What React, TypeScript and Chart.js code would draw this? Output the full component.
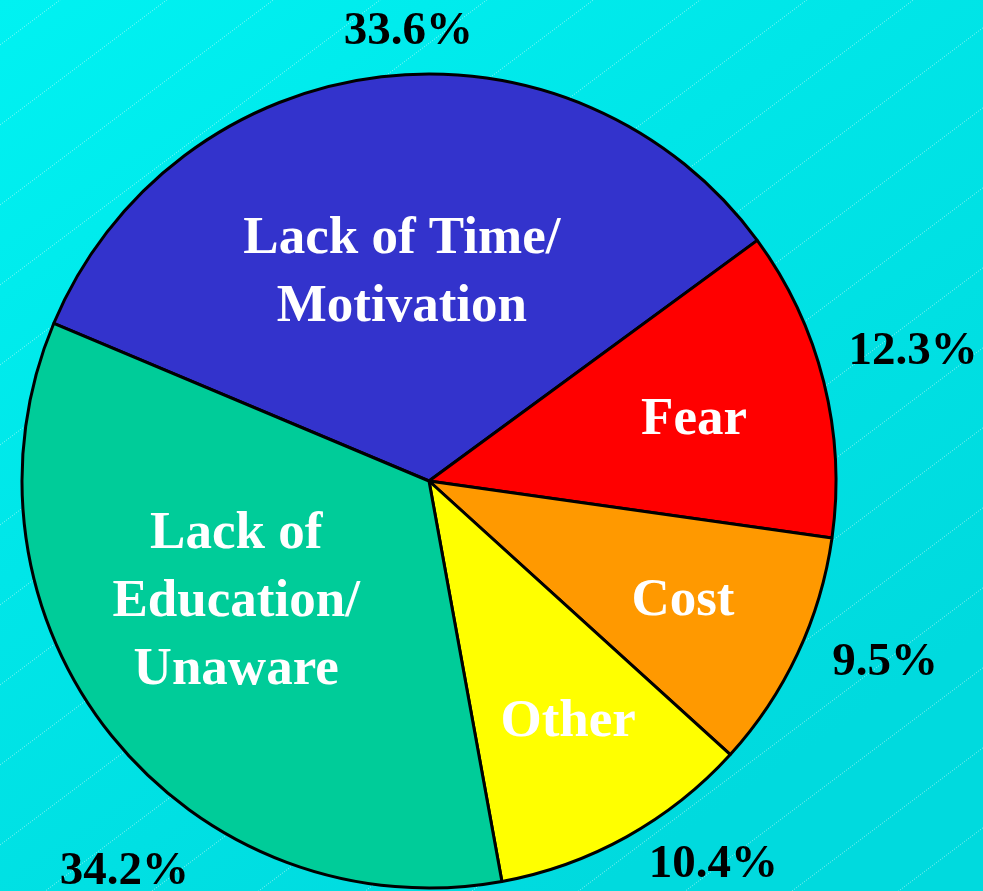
import React, { useEffect, useRef } from "react";
import { Chart, registerables } from "chart.js";

Chart.register(...registerables);

// ---- data ----
const categories = ["Lack of Time/ Motivation", "Fear", "Cost", "Other", "Lack of Education/ Unaware"];
const categoryLines = [["Lack of Time/", "Motivation"], ["Fear"], ["Cost"], ["Other"], ["Lack of", "Education/", "Unaware"]];
const values = [33.6, 12.3, 9.5, 10.4, 34.2];
const percentLabels = ["33.6%", "12.3%", "9.5%", "10.4%", "34.2%"];
const sliceColors = ["#3333CC", "#FF0000", "#FF9900", "#FFFF00", "#00CC99"];

// ---- label layout (relative to each slice's mid angle and radius) ----
const innerRadiusFactor = [0.523, 0.67, 0.687, 0.679, 0.556];
const innerAngleOffset = [-0.6, 0.5, -0.4, -1.2, 7.2];
const outerRadiusFactor = [1.113, 1.233, 1.204, 1.168, 1.212];
const outerAngleOffset = [4.1, -1.2, -3.7, -7.7, -13.1];

const W = 983;
const H = 891;

const backgroundPlugin = {
  id: "bgPlugin",
  beforeDraw(chart: any) {
    const ctx = chart.ctx;
    ctx.save();
    const g = ctx.createLinearGradient(0, 0, 600, H);
    g.addColorStop(0, "rgb(0,242,242)");
    g.addColorStop(0.45, "rgb(0,230,232)");
    g.addColorStop(1, "rgb(0,218,222)");
    ctx.fillStyle = g;
    ctx.fillRect(0, 0, chart.width, chart.height);
    // faint dotted diagonal lines
    ctx.strokeStyle = "rgba(255,255,255,0.55)";
    ctx.lineWidth = 1;
    ctx.setLineDash([1, 1.5]);
    for (let c = 45; c < H + 0.75 * W + 80; c += 80) {
      ctx.beginPath();
      ctx.moveTo(0, c);
      ctx.lineTo(W, c - 0.75 * W);
      ctx.stroke();
    }
    ctx.restore();
  },
};

const labelPlugin = {
  id: "labelPlugin",
  afterDatasetsDraw(chart: any) {
    const ctx = chart.ctx;
    const meta = chart.getDatasetMeta(0);
    ctx.save();
    ctx.textAlign = "center";
    ctx.textBaseline = "middle";
    meta.data.forEach((arc: any, i: number) => {
      const { x, y, startAngle, endAngle, outerRadius } = arc.getProps(
        ["x", "y", "startAngle", "endAngle", "outerRadius"],
        true
      );
      const mid = (startAngle + endAngle) / 2;
      // inner label
      const ia = mid + (innerAngleOffset[i] * Math.PI) / 180;
      const ir = outerRadius * innerRadiusFactor[i];
      const ix = x + Math.cos(ia) * ir;
      const iy = y + Math.sin(ia) * ir + 3;
      const lines = categoryLines[i];
      const lh = 68;
      ctx.fillStyle = "#FFFFFF";
      ctx.font = 'bold 53px "Liberation Serif", "Times New Roman", serif';
      lines.forEach((ln, k) => {
        ctx.fillText(ln, ix, iy - ((lines.length - 1) * lh) / 2 + k * lh);
      });
      // outer percentage
      const oa = mid + (outerAngleOffset[i] * Math.PI) / 180;
      const or = outerRadius * outerRadiusFactor[i];
      ctx.fillStyle = "#000000";
      ctx.font = 'bold 47px "Liberation Serif", "Times New Roman", serif';
      ctx.fillText(percentLabels[i], x + Math.cos(oa) * or, y + Math.sin(oa) * or + 3);
    });
    ctx.restore();
  },
};

export default function App() {
  const ref = useRef<HTMLCanvasElement | null>(null);
  useEffect(() => {
    if (!ref.current) return;
    const chart = new Chart(ref.current, {
      type: "pie",
      data: {
        labels: categories,
        datasets: [
          {
            data: values,
            backgroundColor: sliceColors,
            borderColor: "#000000",
            borderWidth: 3,
            radius: 407,
          } as any,
        ],
      },
      options: {
        responsive: false,
        animation: false,
        rotation: -67.2,
        layout: { padding: { left: 0, right: 125, top: 71, bottom: 0 } },
        plugins: {
          legend: { display: false },
          tooltip: { enabled: false },
        },
      },
      plugins: [backgroundPlugin, labelPlugin],
    });
    return () => chart.destroy();
  }, []);
  return (
    <div style={{ position: "absolute", left: 0, top: 0, width: W, height: H }}>
      <canvas ref={ref} width={W} height={H} style={{ width: W, height: H, display: "block" }} />
    </div>
  );
}
